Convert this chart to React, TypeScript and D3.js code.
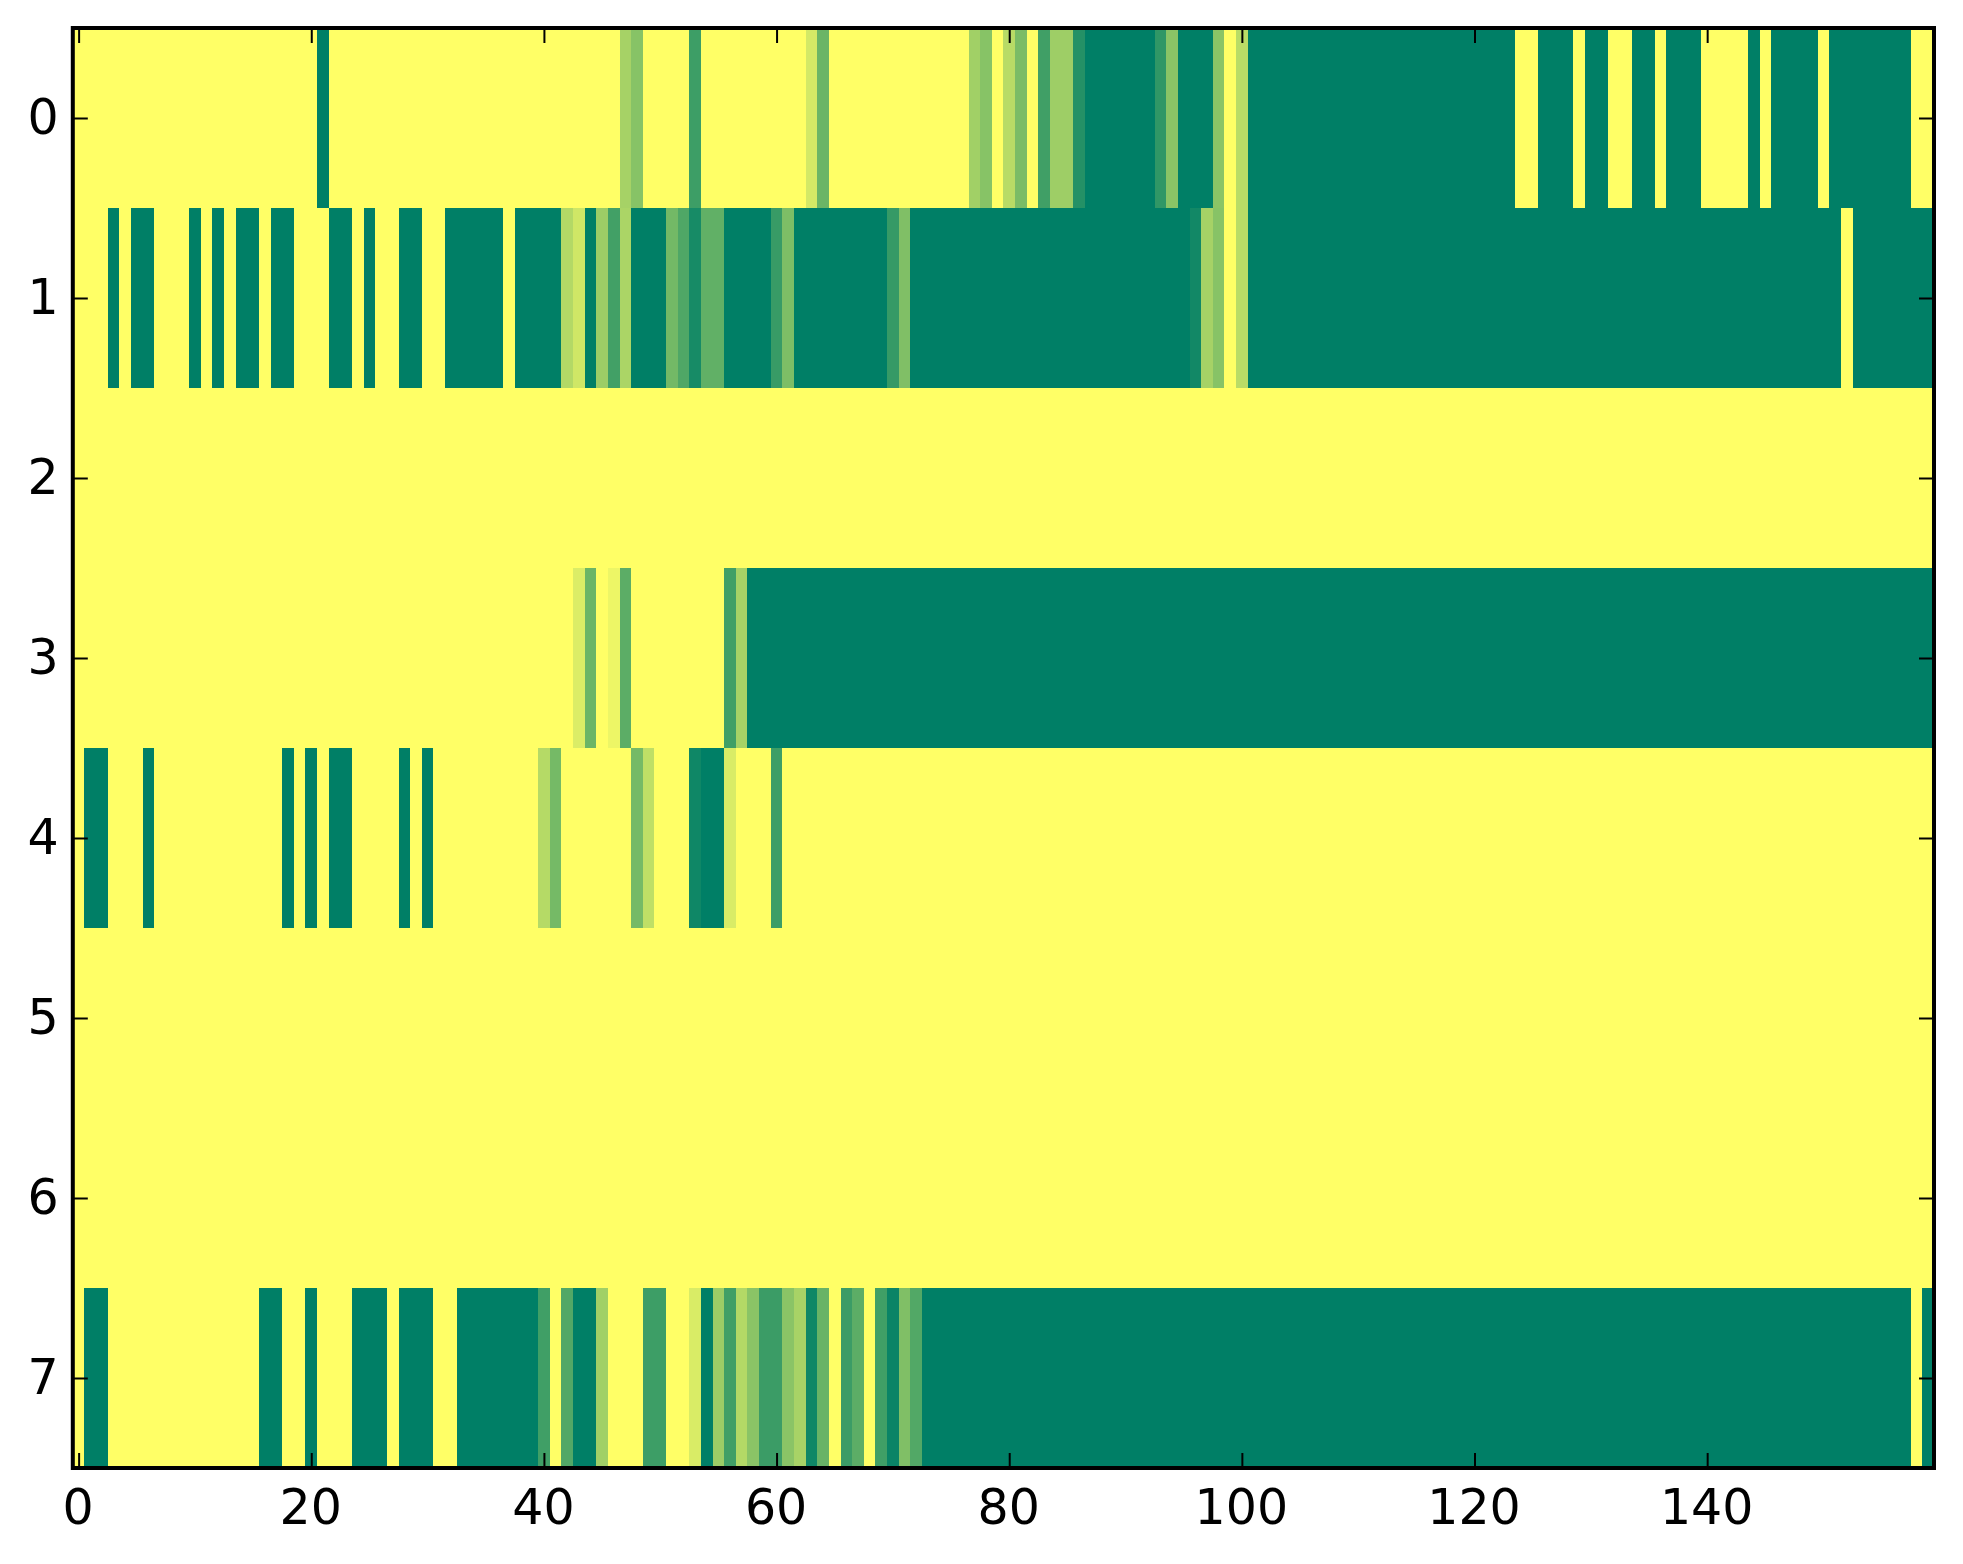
import React, { useEffect, useRef } from 'react';
import * as d3 from 'd3';

// 160 columns per row, 20 values a line
const row0 = [
  0,0,0,0,0,0,0,0,0,0,0,0,0,0,0,0,0,0,0,0,
  0,1,0,0,0,0,0,0,0,0,0,0,0,0,0,0,0,0,0,0,
  0,0,0,0,0,0,0,.35,.47,0,0,0,0,.76,0,0,0,0,0,0,
  0,0,0,.17,.58,0,0,0,0,0,0,0,0,0,0,0,0,.37,.47,0,
  .28,.52,0,.75,.38,.38,.86,1,1,1,1,1,1,.81,.46,1,1,1,.46,0,
  .27,1,1,1,1,1,1,1,1,1,1,1,1,1,1,1,1,1,1,1,
  1,1,1,1,0,0,1,1,1,0,1,1,0,0,1,1,0,1,1,1,
  0,0,0,0,1,0,1,1,1,1,0,1,1,1,1,1,1,1,0,0,
];
const row1 = [
  0,0,0,1,0,1,1,0,0,0,1,0,1,0,1,1,0,1,1,0,
  0,0,1,1,0,1,0,0,1,1,0,0,1,1,1,1,1,0,1,1,
  1,1,.3,.19,1,.39,.74,.33,1,1,1,.55,.69,.91,.62,.62,1,1,1,1,
  .78,.51,1,1,1,1,1,1,1,1,.79,.5,1,1,1,1,1,1,1,1,
  1,1,1,1,1,1,1,1,1,1,1,1,1,1,1,1,.93,.35,.47,0,
  .27,1,1,1,1,1,1,1,1,1,1,1,1,1,1,1,1,1,1,1,
  1,1,1,1,1,1,1,1,1,1,1,1,1,1,1,1,1,1,1,1,
  1,1,1,1,1,1,1,1,1,1,1,1,0,1,1,1,1,1,1,1,
];
const row2 = [
  0,0,0,0,0,0,0,0,0,0,0,0,0,0,0,0,0,0,0,0,
  0,0,0,0,0,0,0,0,0,0,0,0,0,0,0,0,0,0,0,0,
  0,0,0,0,0,0,0,0,0,0,0,0,0,0,0,0,0,0,0,0,
  0,0,0,0,0,0,0,0,0,0,0,0,0,0,0,0,0,0,0,0,
  0,0,0,0,0,0,0,0,0,0,0,0,0,0,0,0,0,0,0,0,
  0,0,0,0,0,0,0,0,0,0,0,0,0,0,0,0,0,0,0,0,
  0,0,0,0,0,0,0,0,0,0,0,0,0,0,0,0,0,0,0,0,
  0,0,0,0,0,0,0,0,0,0,0,0,0,0,0,0,0,0,0,0,
];
const row3 = [
  0,0,0,0,0,0,0,0,0,0,0,0,0,0,0,0,0,0,0,0,
  0,0,0,0,0,0,0,0,0,0,0,0,0,0,0,0,0,0,0,0,
  0,0,0,.14,.58,0,.07,.64,0,0,0,0,0,0,0,0,.75,.35,1,1,
  1,1,1,1,1,1,1,1,1,1,1,1,1,1,1,1,1,1,1,1,
  1,1,1,1,1,1,1,1,1,1,1,1,1,1,1,1,1,1,1,1,
  1,1,1,1,1,1,1,1,1,1,1,1,1,1,1,1,1,1,1,1,
  1,1,1,1,1,1,1,1,1,1,1,1,1,1,1,1,1,1,1,1,
  1,1,1,1,1,1,1,1,1,1,1,1,1,1,1,1,1,1,1,1,
];
const row4 = [
  0,1,1,0,0,0,1,0,0,0,0,0,0,0,0,0,0,0,1,0,
  1,0,1,1,0,0,0,0,1,0,1,0,0,0,0,0,0,0,0,0,
  .29,.54,0,0,0,0,0,0,.54,.25,0,0,0,.94,1,1,.15,0,0,0,
  .76,0,0,0,0,0,0,0,0,0,0,0,0,0,0,0,0,0,0,0,
  0,0,0,0,0,0,0,0,0,0,0,0,0,0,0,0,0,0,0,0,
  0,0,0,0,0,0,0,0,0,0,0,0,0,0,0,0,0,0,0,0,
  0,0,0,0,0,0,0,0,0,0,0,0,0,0,0,0,0,0,0,0,
  0,0,0,0,0,0,0,0,0,0,0,0,0,0,0,0,0,0,0,0,
];
const row5 = row2;
const row6 = row2;
const row7 = [
  0,1,1,0,0,0,0,0,0,0,0,0,0,0,0,0,1,1,0,0,
  1,0,0,0,1,1,1,0,1,1,1,0,0,1,1,1,1,1,1,1,
  .75,0,.68,1,1,.37,0,0,0,.76,.76,0,0,.15,1,.39,.75,.3,.46,.77,
  .77,.46,.34,.94,.59,0,.77,.64,0,.75,.96,.5,.68,1,1,1,1,1,1,1,
  1,1,1,1,1,1,1,1,1,1,1,1,1,1,1,1,1,1,1,1,
  1,1,1,1,1,1,1,1,1,1,1,1,1,1,1,1,1,1,1,1,
  1,1,1,1,1,1,1,1,1,1,1,1,1,1,1,1,1,1,1,1,
  1,1,1,1,1,1,1,1,1,1,1,1,1,1,1,1,1,1,0,1,
];
const rows = [row0, row1, row2, row3, row4, row5, row6, row7];

const xTicks = [0, 20, 40, 60, 80, 100, 120, 140];
const yTicks = [0, 1, 2, 3, 4, 5, 6, 7];

const App: React.FC = () => {
  const svgRef = useRef<SVGSVGElement>(null);

  useEffect(() => {
    const left = 72.8, right = 1934, top = 28, bottom = 1468;
    const svg = d3.select(svgRef.current);
    svg.selectAll('*').remove();

    const x = d3.scaleLinear().domain([-0.5, 159.5]).range([left, right]);
    const y = d3.scaleLinear().domain([-0.5, 7.5]).range([top, bottom]);
    // summer_r colormap
    const color = d3.scaleLinear<string>().domain([0, 1]).range(['#ffff66', '#007f66']);

    const cells = rows.flatMap((row, r) => row.map((v, c) => ({ r, c, v })));
    svg.append('g')
      .attr('shape-rendering', 'crispEdges')
      .selectAll('rect')
      .data(cells)
      .enter().append('rect')
      .attr('x', d => x(d.c - 0.5))
      .attr('y', d => y(d.r - 0.5))
      .attr('width', d => x(d.c + 0.5) - x(d.c - 0.5))
      .attr('height', d => y(d.r + 0.5) - y(d.r - 0.5))
      .attr('fill', d => color(d.v));

    const styleAxis = (g: any) => {
      g.select('.domain').remove();
      g.selectAll('line').attr('stroke', '#000').attr('stroke-width', 2);
      g.selectAll('text')
        .attr('font-family', '"DejaVu Sans"')
        .attr('font-size', 49)
        .attr('fill', '#000');
    };

    const xBottom = svg.append('g').attr('transform', `translate(0,${bottom})`)
      .call(d3.axisBottom(x).tickValues(xTicks).tickSize(-15).tickFormat(d3.format('d') as any));
    styleAxis(xBottom);
    xBottom.selectAll('text').attr('x', -1).attr('y', 56).attr('dy', 0);

    const yLeft = svg.append('g').attr('transform', `translate(${left},0)`)
      .call(d3.axisLeft(y).tickValues(yTicks).tickSize(-15).tickFormat(d3.format('d') as any));
    styleAxis(yLeft);
    yLeft.selectAll('text').attr('x', -14).attr('y', 15).attr('dy', 0);

    const xTop = svg.append('g').attr('transform', `translate(0,${top})`)
      .call(d3.axisTop(x).tickValues(xTicks).tickSize(-15).tickFormat(() => ''));
    styleAxis(xTop);

    const yRight = svg.append('g').attr('transform', `translate(${right},0)`)
      .call(d3.axisRight(y).tickValues(yTicks).tickSize(-15).tickFormat(() => ''));
    styleAxis(yRight);

    // spines
    svg.append('rect')
      .attr('x', left)
      .attr('y', top)
      .attr('width', right - left)
      .attr('height', bottom - top)
      .attr('fill', 'none')
      .attr('stroke', '#000')
      .attr('stroke-width', 4);
  }, []);

  return (
    <svg
      ref={svgRef}
      width={1963}
      height={1564}
      style={{ position: 'absolute', left: 0, top: 0, background: '#fff' }}
    />
  );
};

export default App;
